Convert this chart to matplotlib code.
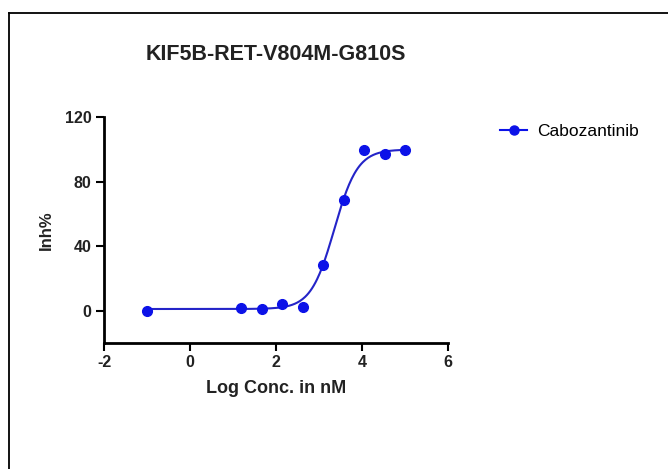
import numpy as np
import matplotlib
matplotlib.use("Agg")
import matplotlib.pyplot as plt
from matplotlib.lines import Line2D

plt.rcParams['font.family'] = ['Liberation Sans', 'DejaVu Sans']
plt.rcParams['axes.unicode_minus'] = False

# Data: log10 of concentration (nM) and % inhibition
log_conc = [-1.0, 1.183, 1.660, 2.137, 2.614, 3.091, 3.569, 4.046, 4.523, 5.0]
inhibition = [0.0, 1.8, 1.2, 3.8, 2.2, 28.3, 68.5, 99.7, 97.2, 99.9]
compound = "Cabozantinib"
title = "KIF5B-RET-V804M-G810S"

# 4PL fit parameters
bottom, top, log_ic50, hill = 1.0, 100.0, 3.35, 1.6

x_ticks = [-2, 0, 2, 4, 6]
y_ticks = [0, 40, 80, 120]

pt_color = "#0c12e8"
line_color = "#2424c8"

fig = plt.figure(figsize=(6.68, 4.69), dpi=100)
ax = fig.add_axes([0.156, 0.269, 0.515, 0.481])

xfit = np.linspace(min(log_conc), max(log_conc), 300)
yfit = bottom + (top - bottom) / (1 + 10 ** ((log_ic50 - xfit) * hill))
ax.plot(xfit, yfit, color=line_color, lw=1.5)
ax.plot(log_conc, inhibition, 'o', color=pt_color, ms=7, clip_on=False)

ax.set_xlim(-2, 6)
ax.set_ylim(-20, 120)
ax.set_xticks(x_ticks)
ax.set_yticks(y_ticks)
for s in ['top', 'right']:
    ax.spines[s].set_visible(False)
for s in ['left', 'bottom']:
    ax.spines[s].set_linewidth(2)
ax.tick_params(width=1.5, length=6, labelsize=11.5, pad=3)
for lab in ax.get_xticklabels() + ax.get_yticklabels():
    lab.set_fontweight('bold')
    lab.set_color('#222222')

ax.set_xlabel("Log Conc. in nM", fontsize=13, fontweight='bold', labelpad=7,
              color='#222222')
ax.set_ylabel("Inh%", fontsize=12, fontweight='bold', labelpad=8, color='#222222')
ax.set_title(title, fontsize=15.5, fontweight='bold', pad=41, color='#222222')

handle = Line2D([], [], color=pt_color, marker='o', ms=6.5, lw=1.5)
fig.legend([handle], [compound], loc='center left', bbox_to_anchor=(0.749, 1 - 131 / 469),
           frameon=False, fontsize=12.5, handlelength=1.55, handletextpad=0.57,
           borderpad=0, borderaxespad=0)

# frame lines around the picture
fig.add_artist(Line2D([9 / 668, 9 / 668], [0, 1 - 13 / 469], color='black', lw=1.3,
                      transform=fig.transFigure))
fig.add_artist(Line2D([9 / 668, 1], [1 - 13 / 469, 1 - 13 / 469], color='black', lw=1.3,
                      transform=fig.transFigure))

fig.savefig("out.png", dpi=100)
